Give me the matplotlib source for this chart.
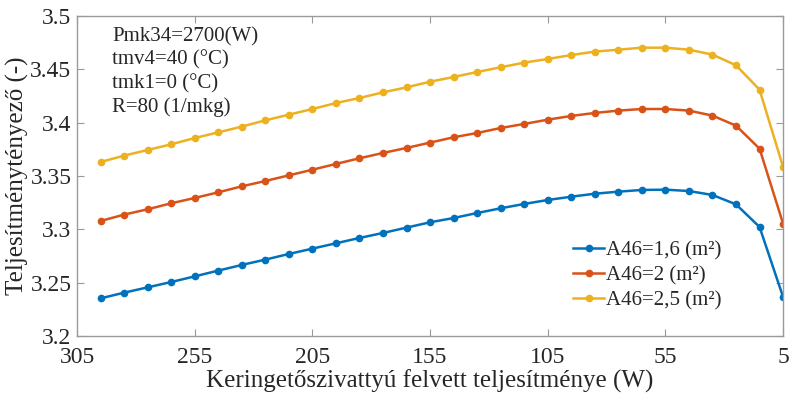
import matplotlib
matplotlib.use("Agg")
import matplotlib.pyplot as plt

plt.rcParams['font.family'] = ['Liberation Serif', 'DejaVu Serif']

power = [295, 285, 275, 265, 255, 245, 235, 225, 215, 205, 195, 185, 175, 165, 155,
         145, 135, 125, 115, 105, 95, 85, 75, 65, 55, 45, 35, 25, 15, 5]

cop_16 = [3.2353, 3.2406, 3.2456, 3.2506, 3.2559, 3.2613, 3.2666,
          3.2716, 3.2769, 3.2819, 3.2869, 3.2919, 3.2966, 3.3016, 3.3066,
          3.3106, 3.3153, 3.3197, 3.3238, 3.3275, 3.3306, 3.3334,
          3.3353, 3.3369, 3.3372, 3.3359, 3.3322, 3.3234, 3.3022, 3.2366]

cop_2 = [3.3078, 3.3138, 3.3188, 3.3244, 3.3294, 3.3347, 3.3403,
         3.3453, 3.3506, 3.3559, 3.3613, 3.3666, 3.3716, 3.3763, 3.3813,
         3.3863, 3.3903, 3.3950, 3.3988, 3.4028, 3.4063, 3.4091,
         3.4113, 3.4128, 3.4128, 3.4113, 3.4066, 3.3972, 3.3756, 3.3053]

cop_25 = [3.3631, 3.3691, 3.3744, 3.3797, 3.3856, 3.3909, 3.3963,
          3.4022, 3.4075, 3.4128, 3.4184, 3.4231, 3.4284, 3.4331, 3.4384,
          3.4428, 3.4475, 3.4519, 3.4563, 3.4597, 3.4634, 3.4666,
          3.4684, 3.4703, 3.4703, 3.4684, 3.4638, 3.4538, 3.4309, 3.3584]

labels = ['A46=1,6 (m²)', 'A46=2 (m²)', 'A46=2,5 (m²)']
colors = ['#0072BD', '#D95319', '#EDB120']

xticks = [305, 255, 205, 155, 105, 55, 5]
yticks = [3.2, 3.25, 3.3, 3.35, 3.4, 3.45, 3.5]
ytick_labels = ['3.2', '3.25', '3.3', '3.35', '3.4', '3.45', '3.5']

params = ['Pmk34=2700(W)', 'tmv4=40 (°C)', 'tmk1=0 (°C)', 'R=80 (1/mkg)']

fig = plt.figure(figsize=(7.91, 3.95), dpi=100)
ax = fig.add_axes([0.0974, 0.1494, 0.8926, 0.8101])

for ys, lab, c in zip([cop_16, cop_2, cop_25], labels, colors):
    ax.plot(power, ys, color=c, lw=1.8, marker='o', ms=4.5, label=lab)

ax.set_xlim(305, 5)
ax.set_ylim(3.2, 3.5)
ax.set_xticks(xticks)
ax.set_xticklabels([str(t) for t in xticks])
ax.set_yticks(yticks)
ax.set_yticklabels(ytick_labels)
ax.tick_params(direction='in', top=True, right=True, labelsize=17, length=5,
               color='#9a9a9a', labelcolor='#262626')
ax.tick_params(axis='x', pad=8)
ax.tick_params(axis='y', pad=4)
for s in ax.spines.values():
    s.set_color('#9a9a9a')
    s.set_linewidth(1.0)

ax.set_xlabel('Keringetőszivattyú felvett teljesítménye (W)', fontsize=18,
              color='#262626', labelpad=1)
ax.set_ylabel('Teljesítménytényező (-)', fontsize=18, color='#262626')
ax.yaxis.set_label_coords(-0.068, 0.5)

for i, t in enumerate(params):
    ax.text(0.05, 0.935 - i * 0.073, t, transform=ax.transAxes, fontsize=15,
            color='#262626', va='center', ha='left')

leg = ax.legend(loc='lower right', bbox_to_anchor=(0.925, 0.055), frameon=False,
                fontsize=15, handlelength=1.5, handletextpad=0.1,
                labelspacing=0.25, borderaxespad=0)
for t in leg.get_texts():
    t.set_color('#262626')

fig.savefig('out.png', dpi=100)
